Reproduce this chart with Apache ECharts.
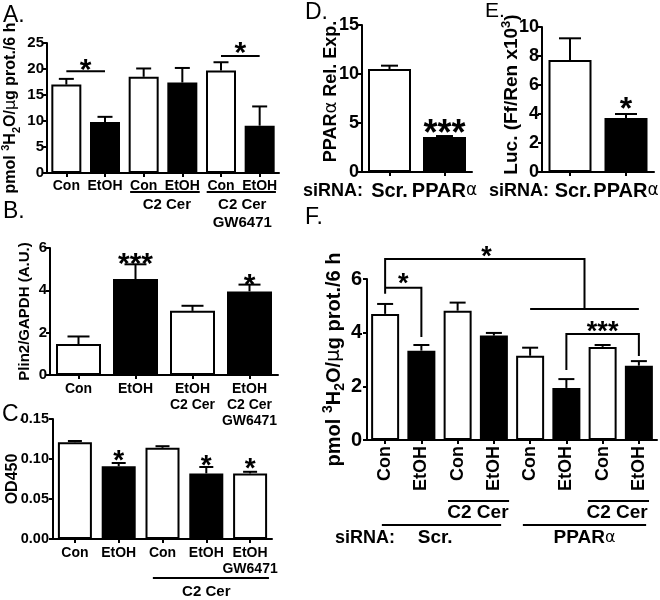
<!DOCTYPE html>
<html><head><meta charset="utf-8">
<script src="https://cdn.jsdelivr.net/npm/echarts@6/dist/echarts.min.js"></script>
<style>html,body{margin:0;padding:0;background:#fff}#c{width:660px;height:600px}</style>
</head><body><div id="c"></div><script>
const FONT = 'Liberation Sans';

// ---------- Panel A ----------
const aCats = ['Con','EtOH','Con','EtOH','Con','EtOH'];
const aMean = [17.0, 9.8, 18.5, 17.4, 19.7, 9.1];
const aSem  = [1.1, 1.0, 1.6, 2.8, 1.6, 3.7];
const aFill = ['w','b','w','b','w','b'];
const aY = [0, 25, 5];
// ---------- Panel B ----------
const bCats = ['Con','EtOH','EtOH\nC2 Cer','EtOH\nC2 Cer\nGW6471'];
const bMean = [1.46, 4.53, 3.03, 3.95];
const bSem  = [0.36, 0.70, 0.24, 0.32];
const bFill = ['w','b','w','b'];
const bY = [0, 6, 2];
// ---------- Panel C ----------
const cCats = ['Con','EtOH','Con','EtOH','EtOH\nGW6471'];
const cMean = [0.121, 0.091, 0.114, 0.082, 0.082];
const cSem  = [0.0015, 0.004, 0.002, 0.008, 0.002];
const cFill = ['w','b','w','b','w'];
const cY = [0, 0.15, 0.05];
// ---------- Panel D ----------
const dCats = ['Scr.','PPARα'];
const dMean = [10.5, 3.57];
const dSem  = [0.35, 0.10];
const dFill = ['w','b'];
const dY = [0, 15, 5];
// ---------- Panel E ----------
const eCats = ['Scr.','PPARα'];
const eMean = [7.72, 3.72];
const eSem  = [1.50, 0.28];
const eFill = ['w','b'];
const eY = [0, 10, 2];
// ---------- Panel F ----------
const fCats = ['Con','EtOH','Con','EtOH','Con','EtOH','Con','EtOH'];
const fMean = [4.70, 3.33, 4.82, 3.89, 3.14, 1.94, 3.47, 2.77];
const fSem  = [0.37, 0.21, 0.30, 0.10, 0.30, 0.33, 0.07, 0.17];
const fFill = ['w','b','w','b','w','b','w','b'];
const fY = [0, 6, 2];

// ---------- significance marks (category index, value) ----------
const aSigLines = [[[0,19.55],[1,19.55]], [[4,22.5],[5,22.5]]];
const aSigStars = [[0.5, 20.9, '*'], [4.5, 24.1, '*']];
const bSigStars = [[1, 5.48, '***'], [3, 4.49, '*']];
const cSigStars = [[1, 0.104, '*'], [3, 0.0975, '*'], [4, 0.094, '*']];
const dSigStars = [[1, 4.54, '***']];
const eSigStars = [[1, 4.69, '*']];
const fSigLines = [
  [[0,5.45],[0,6.75],[5.5,6.75],[5.5,4.88]],
  [[4,4.88],[7,4.88]],
  [[0,5.67],[1,5.67],[1,3.84]],
  [[5,2.61],[5,3.95],[7,3.95],[7,3.13]]
];
const fSigStars = [[2.8, 7.0, '*'], [0.5, 6.0, '*'], [6, 4.19, '***']];

// ---------- group labels under x axis: [fromCat, toCat, labelCat, text] ----------
const aGroups  = [[1.65, 3.45, 2.6, 'C2 Cer'], [3.63, 5.42, 4.55, 'C2 Cer\nGW6471']];
const cGroups  = [[1.78, 4.43, 3.0, 'C2 Cer']];
const fGroups1 = [[1.735, 3.42, 2.56, 'C2 Cer'], [5.6, 7.28, 6.4, 'C2 Cer']];
const fGroups2 = [[-0.09, 3.2, 1.38, 'Scr.'], [3.8, 7.2, 5.5, '{m|PPAR}{al|α}']];

// ---------- helpers ----------
const RICH_AL = (fs, afs) => ({
  m: {fontSize: fs, fontWeight: 'bold', fontFamily: FONT, color: '#000'},
  al: {fontSize: afs || fs, fontWeight: 'normal', fontFamily: 'DejaVu Sans', color: '#000'}
});

function grid(left, top, width, height) {
  return {left, top, width, height, containLabel: false, outerBoundsMode: 'none'};
}
function xAx(gi, cats, fs, margin, lh, extra) {
  return Object.assign({
    gridIndex: gi, type: 'category', data: cats,
    axisLine: {show: true, onZero: false, lineStyle: {color: '#000', width: 2}},
    axisTick: {show: true, alignWithLabel: true, length: 4, lineStyle: {color: '#000', width: 2}},
    splitLine: {show: false},
    axisLabel: {color: '#000', fontSize: fs, fontWeight: 'bold', fontFamily: FONT,
      margin, lineHeight: lh, interval: 0, hideOverlap: false}
  }, extra || {});
}
function yAx(gi, rng, fs, margin, name, nameGap, nameStyle, fmt) {
  return {
    gridIndex: gi, type: 'value', min: rng[0], max: rng[1], interval: rng[2],
    axisLine: {show: true, onZero: false, lineStyle: {color: '#000', width: 2}},
    axisTick: {show: true, length: 4, lineStyle: {color: '#000', width: 2}},
    splitLine: {show: false},
    axisLabel: {color: '#000', fontSize: fs, fontWeight: 'bold', fontFamily: FONT, margin, formatter: fmt},
    name, nameLocation: 'middle', nameRotate: 90, nameGap, nameMoveOverlap: false,
    nameTextStyle: nameStyle
  };
}
function barSeries(gi, mean, fill, bw) {
  return {
    type: 'bar', xAxisIndex: gi, yAxisIndex: gi, barWidth: bw, silent: true, z: 2,
    itemStyle: {borderColor: '#000', borderWidth: 2},
    data: mean.map((v, i) => ({value: v, itemStyle: {color: fill[i] === 'b' ? '#000' : '#fff'}}))
  };
}
function errSeries(gi, mean, sem, capW) {
  return {
    type: 'custom', xAxisIndex: gi, yAxisIndex: gi, silent: true, z: 5,
    data: mean.map((m, i) => [i, m, sem[i]]),
    encode: {x: 0, y: 1},
    renderItem(params, api) {
      const i = api.value(0), m = api.value(1), s = api.value(2);
      const p0 = api.coord([i, m]), p1 = api.coord([i, m + s]);
      return {type: 'group', children: [
        {type: 'line', shape: {x1: p0[0], y1: p0[1], x2: p1[0], y2: p1[1]}, style: {stroke: '#000', lineWidth: 2}},
        {type: 'line', shape: {x1: p1[0] - capW / 2, y1: p1[1], x2: p1[0] + capW / 2, y2: p1[1]}, style: {stroke: '#000', lineWidth: 2}}
      ]};
    }
  };
}
function txt(x, y, text, font, extra) {
  return Object.assign({type: 'text', x, y, style: {text, font, fill: '#000',
    align: 'center', verticalAlign: 'middle', textAlign: 'center', textVerticalAlign: 'middle'}}, extra || {});
}
// annotation series: significance lines/stars + group underlines, all positioned via the axes
function annotSeries(gi, lines, stars, starFs, groupSets) {
  return {
    type: 'custom', xAxisIndex: gi, yAxisIndex: gi, silent: true, z: 10, clip: false,
    data: [[0, 0]], encode: {x: 0, y: 1},
    renderItem(params, api) {
      const c0 = api.coord([0, 0]), c1 = api.coord([1, 0]);
      const step = c1[0] - c0[0];
      const X = v => c0[0] + v * step;
      const Y = v => api.coord([0, v])[1];
      const base = c0[1];
      const ch = [];
      lines.forEach(pl => ch.push({type: 'polyline',
        shape: {points: pl.map(p => [X(p[0]), Y(p[1])])},
        style: {stroke: '#000', lineWidth: 2, fill: 'none'}}));
      stars.forEach(s => ch.push(txt(X(s[0]), Y(s[1]) + 0.2 * starFs, s[2], `bold ${starFs}px "${FONT}"`)));
      groupSets.forEach(gs => {
        gs.groups.forEach(g => {
          ch.push({type: 'line', shape: {x1: X(g[0]), y1: base + gs.lineDy, x2: X(g[1]), y2: base + gs.lineDy},
            style: {stroke: '#000', lineWidth: 2}});
          ch.push({type: 'text', x: X(g[2]), y: base + gs.textDy - gs.lh / 2,
            style: {text: g[3], font: `bold ${gs.fs}px "${FONT}"`, fill: '#000', lineHeight: gs.lh,
              align: 'center', verticalAlign: 'top', textAlign: 'center', textVerticalAlign: 'top',
              rich: RICH_AL(gs.fs, gs.fs - 3)}});
        });
      });
      return {type: 'group', children: ch};
    }
  };
}
function h2oName(fs) {
  return {
    name: '{m|pmol }{sup|3}{m|H}{sub|2}{m|O/}{mu|μ}{m|g prot./6 h}',
    style: {color: '#000', fontFamily: FONT, rich: {
      m: {fontSize: fs, fontWeight: 'bold', fontFamily: FONT, color: '#000', lineHeight: fs + 6},
      mu: {fontSize: fs, fontWeight: 'normal', fontFamily: 'DejaVu Sans', color: '#000', lineHeight: fs + 6},
      sup: {fontSize: Math.round(fs * 0.68), fontWeight: 'bold', fontFamily: FONT, color: '#000', verticalAlign: 'top', lineHeight: Math.round(fs * 0.68)},
      sub: {fontSize: Math.round(fs * 0.68), fontWeight: 'bold', fontFamily: FONT, color: '#000', verticalAlign: 'bottom', lineHeight: Math.round(fs * 0.68)}
    }}
  };
}
const aName = h2oName(16), fName = h2oName(20);
const fmt2 = v => v.toFixed(2);
const plain = (fs) => ({color: '#000', fontSize: fs, fontWeight: 'bold', fontFamily: FONT});
const deLabel = (shiftScr) => ({axisLabel: {color: '#000', fontSize: 20, fontWeight: 'bold', fontFamily: FONT, margin: 9, interval: 0,
  formatter: v => v === 'PPARα' ? '{m|PPAR}{al|α}' : (shiftScr ? '{sc|' + v + '}' : '{m|' + v + '}'),
  rich: Object.assign(RICH_AL(20, 17), {sc: {fontSize: 20, fontWeight: 'bold', fontFamily: FONT, color: '#000', padding: [0, 0, 0, shiftScr]}})}});

const option = {
  animation: false,
  backgroundColor: '#fff',
  grid: [
    grid(47, 43, 232, 130),   // A
    grid(50, 248, 228, 127),  // B
    grid(53, 419, 219, 120),  // C
    grid(362, 25, 110, 147),  // D
    grid(542, 27, 112, 145),  // E
    grid(367, 279, 290, 161)  // F
  ],
  xAxis: [
    xAx(0, aCats, 14, 5, 16),
    xAx(1, bCats, 14, 6, 16),
    xAx(2, cCats, 14, 6, 16),
    xAx(3, dCats, 20, 9, 20, deLabel(0)),
    xAx(4, eCats, 20, 9, 20, deLabel(6)),
    xAx(5, fCats, 18, 6, 20, {axisLabel: {color: '#000', fontSize: 18, fontWeight: 'bold', fontFamily: FONT, margin: 6, interval: 0, rotate: 90}})
  ],
  yAxis: [
    yAx(0, aY, 15, 3, aName.name, 25, aName.style),
    yAx(1, bY, 15, 3, 'Plin2/GAPDH (A.U.)', 18, plain(15)),
    yAx(2, cY, 14.5, 4, 'OD450', 32, plain(16), fmt2),
    yAx(3, dY, 18, 3, '{m|PPAR}{al|α}{m| Rel. Exp.}', 22, {color: '#000', padding: [0, 0, 0, 14], rich: RICH_AL(18)}),
    yAx(4, eY, 18, 3, '{m|Luc. (Ff/Ren x10}{sup|3}{m|)}', 18, {color: '#000', padding: [0, 0, 0, 10], rich: {
      m: {fontSize: 19, fontWeight: 'bold', fontFamily: FONT, color: '#000', lineHeight: 24},
      sup: {fontSize: 13, fontWeight: 'bold', fontFamily: FONT, color: '#000', verticalAlign: 'top', lineHeight: 13}}}),
    yAx(5, fY, 20, 5, fName.name, 20, fName.style)
  ],
  series: [
    barSeries(0, aMean, aFill, 30), errSeries(0, aMean, aSem, 15),
    annotSeries(0, aSigLines, aSigStars, 30, [{groups: aGroups, lineDy: 19, textDy: 32, lh: 18, fs: 15}]),
    barSeries(1, bMean, bFill, 45), errSeries(1, bMean, bSem, 22),
    annotSeries(1, [], bSigStars, 30, []),
    barSeries(2, cMean, cFill, 34), errSeries(2, cMean, cSem, 14),
    annotSeries(2, [], cSigStars, 28, [{groups: cGroups, lineDy: 39, textDy: 53, lh: 18, fs: 15}]),
    barSeries(3, dMean, dFill, 43), errSeries(3, dMean, dSem, 17),
    annotSeries(3, [], dSigStars, 36, []),
    barSeries(4, eMean, eFill, 43), errSeries(4, eMean, eSem, 22),
    annotSeries(4, [], eSigStars, 32, []),
    barSeries(5, fMean, fFill, 28), errSeries(5, fMean, fSem, 16),
    annotSeries(5, fSigLines, fSigStars, 27, [
      {groups: fGroups1, lineDy: 61, textDy: 73, lh: 22, fs: 19},
      {groups: fGroups2, lineDy: 85, textDy: 98, lh: 22, fs: 19}
    ])
  ],
  graphic: [
    {type: 'text', x: 3, y: 4, style: {text: 'A.', font: `23px "${FONT}"`, fill: '#000', verticalAlign: 'top', textVerticalAlign: 'top'}},
    {type: 'text', x: 3, y: 200, style: {text: 'B.', font: `23px "${FONT}"`, fill: '#000', verticalAlign: 'top', textVerticalAlign: 'top'}},
    {type: 'text', x: 2, y: 403, style: {text: 'C.', font: `23px "${FONT}"`, fill: '#000', verticalAlign: 'top', textVerticalAlign: 'top'}},
    {type: 'text', x: 305, y: 1, style: {text: 'D.', font: `23px "${FONT}"`, fill: '#000', verticalAlign: 'top', textVerticalAlign: 'top'}},
    {type: 'text', x: 485, y: 1, style: {text: 'E.', font: `21px "${FONT}"`, fill: '#000', verticalAlign: 'top', textVerticalAlign: 'top'}},
    {type: 'text', x: 305, y: 206, style: {text: 'F.', font: `23px "${FONT}"`, fill: '#000', verticalAlign: 'top', textVerticalAlign: 'top'}},
    {type: 'text', x: 363, y: 191, style: {text: 'siRNA:', font: `bold 18px "${FONT}"`, fill: '#000', align: 'right', textAlign: 'right', verticalAlign: 'middle', textVerticalAlign: 'middle'}},
    {type: 'text', x: 549, y: 191, style: {text: 'siRNA:', font: `bold 18px "${FONT}"`, fill: '#000', align: 'right', textAlign: 'right', verticalAlign: 'middle', textVerticalAlign: 'middle'}},
    {type: 'text', x: 335, y: 538, style: {text: 'siRNA:', font: `bold 18px "${FONT}"`, fill: '#000', align: 'left', textAlign: 'left', verticalAlign: 'middle', textVerticalAlign: 'middle'}}
  ]
};
const chart = echarts.init(document.getElementById('c'), null, {renderer: 'canvas', width: 660, height: 600});
chart.setOption(option);
</script></body></html>
